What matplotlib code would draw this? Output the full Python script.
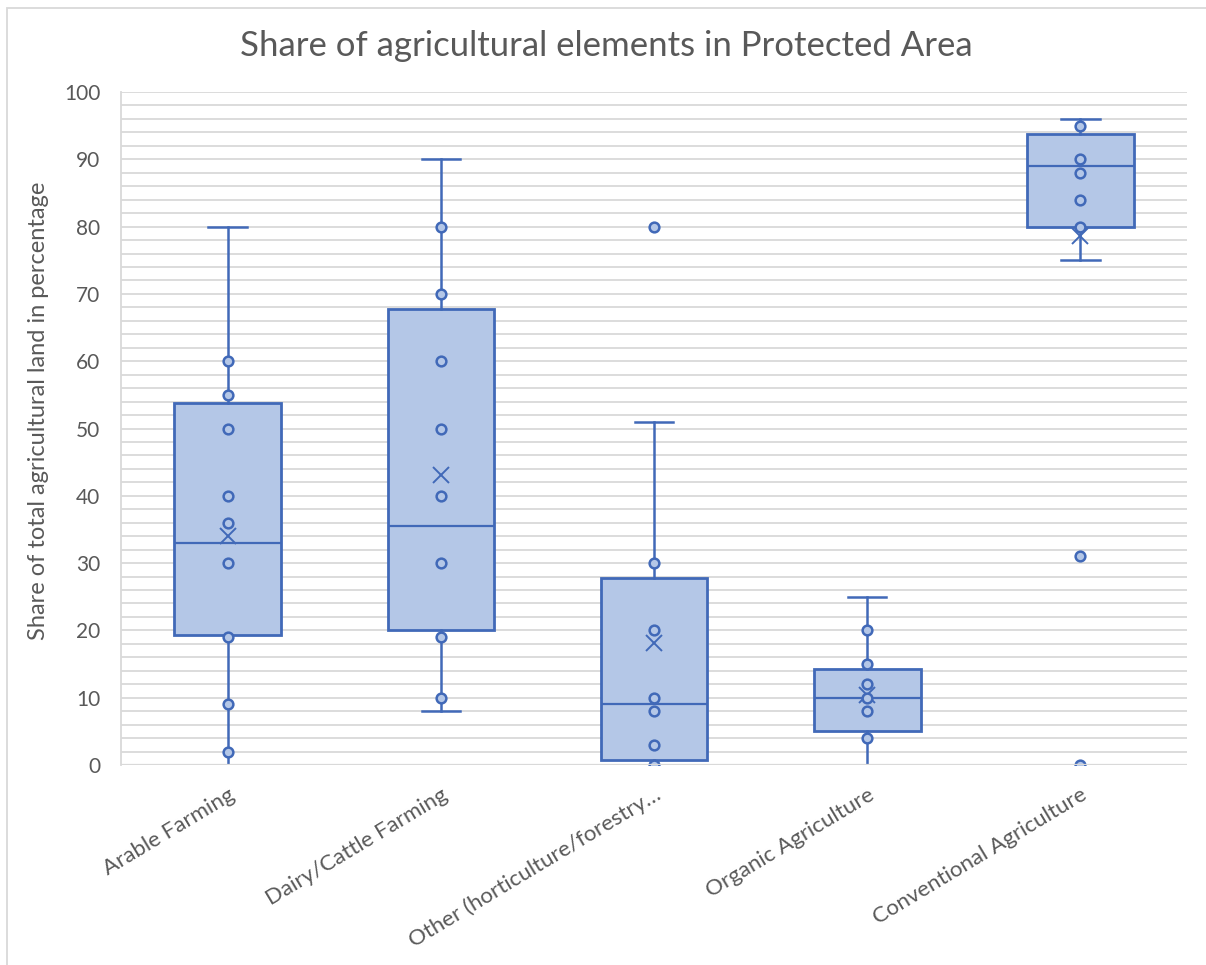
import matplotlib.pyplot as plt
from matplotlib.patches import Rectangle

plt.rcParams['font.family'] = ['Lato', 'DejaVu Sans']

categories = ['Arable Farming', 'Dairy/Cattle Farming', 'Other (horticulture/forestry\u2026',
              'Organic Agriculture', 'Conventional Agriculture']

# box statistics per category
q1 = [19.3, 20.0, 0.8, 5.0, 80.0]
median = [33.0, 35.5, 9.0, 10.0, 89.0]
q3 = [53.8, 67.8, 27.8, 14.3, 93.8]
whisker_low = [0, 8, 0, 0, 75]
whisker_high = [80, 90, 51, 25, 96]
mean = [34.0, 43.1, 18.2, 10.4, 78.6]

# individual points (inner points and outliers)
points = [
    [60, 55, 50, 40, 36, 30, 19, 9, 2],
    [80, 70, 60, 50, 40, 30, 19, 10],
    [80, 30, 20, 10, 8, 3, 0],
    [20, 15, 12, 10, 8, 4],
    [95, 90, 88, 84, 80, 31, 0],
]

edge = '#4169B8'
fill = '#B4C7E7'
grid = '#D9D9D9'
text = '#595959'

fig = plt.figure(figsize=(12.06, 9.65), dpi=100)
ax = fig.add_axes([121 / 1206, 1 - 765 / 965, 1066 / 1206, 673 / 965])

stats = []
for i, name in enumerate(categories):
    stats.append(dict(label=name, q1=q1[i], med=median[i], q3=q3[i],
                      whislo=whisker_low[i], whishi=whisker_high[i],
                      mean=mean[i], fliers=[]))

pos = list(range(len(categories)))
ax.bxp(stats, positions=pos, widths=0.5, patch_artist=True, showmeans=True,
       showfliers=False,
       boxprops=dict(facecolor=fill, edgecolor=edge, linewidth=2),
       medianprops=dict(color=edge, linewidth=1.6),
       whiskerprops=dict(color=edge, linewidth=1.8),
       capprops=dict(color=edge, linewidth=1.8),
       capwidths=0.18,
       meanprops=dict(marker='x', markeredgecolor=edge, markersize=12,
                      markeredgewidth=1.4),
       zorder=3)

for i, vals in enumerate(points):
    ax.plot([pos[i]] * len(vals), vals, ls='', marker='o', markersize=7,
            markerfacecolor=fill, markeredgecolor=edge, markeredgewidth=1.8,
            zorder=4)

ax.set_xlim(-0.5, len(categories) - 0.5)
ax.set_ylim(0, 100)
ax.set_yticks(range(0, 101, 10))
ax.set_yticks(range(0, 101, 2), minor=True)
ax.grid(True, which='both', axis='y', color=grid, linewidth=1.3, zorder=0)
ax.set_axisbelow(True)
ax.axhline(0, color=grid, linewidth=1.6, zorder=5)

for side in ['top', 'right', 'bottom']:
    ax.spines[side].set_visible(False)
ax.spines['left'].set_color(grid)
ax.spines['left'].set_linewidth(1.3)

ax.tick_params(axis='y', which='both', length=0, pad=15, labelsize=15, labelcolor=text)
ax.tick_params(axis='x', length=0, pad=14)
ax.set_xticks(pos)
ax.set_xticklabels(categories, rotation=31, ha='right', rotation_mode='anchor',
                   fontsize=16, color=text)

ax.set_ylabel('Share of total agricultural land in percentage', fontsize=17,
              color=text)
ax.yaxis.set_label_coords(-0.068, 0.527)
fig.text(0.503, 0.952, 'Share of agricultural elements in Protected Area',
         ha='center', va='center', fontsize=25, color=text)

# thin chart-area border
fig.patches.append(Rectangle((6.5 / 1206, -0.01), 1.05, 1 - 7.5 / 965 + 0.01,
                             transform=fig.transFigure, fill=False,
                             edgecolor=grid, linewidth=1.3))

fig.savefig('out.png', dpi=100)
